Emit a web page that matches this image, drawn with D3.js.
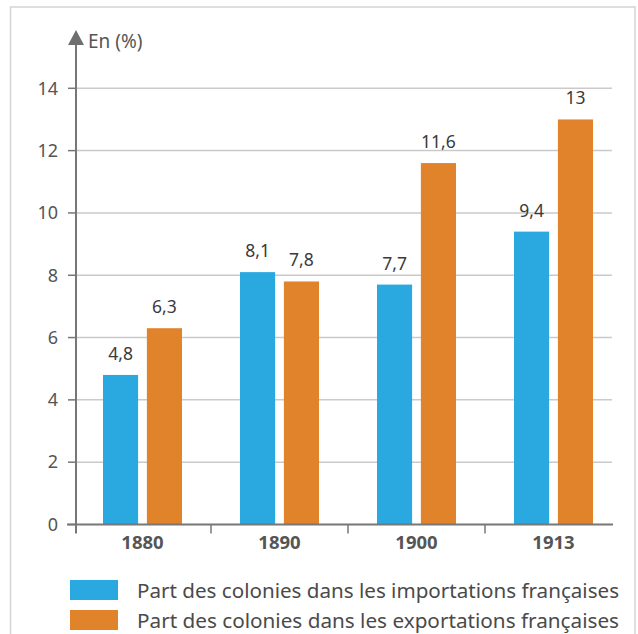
<!DOCTYPE html>
<html><head><meta charset="utf-8">
<script src="https://cdn.jsdelivr.net/npm/d3@7"></script>
<style>
html,body{margin:0;padding:0;background:#fff;}
svg{display:block;font-family:"Noto Sans","Open Sans",sans-serif;}
</style></head>
<body>
<svg id="chart" width="638" height="634"></svg>
<script>
const categories = ["1880", "1890", "1900", "1913"];
const importations = [4.8, 8.1, 7.7, 9.4];
const exportations = [6.3, 7.8, 11.6, 13];
const valueLabels = { imp: ["4,8", "8,1", "7,7", "9,4"], exp: ["6,3", "7,8", "11,6", "13"] };
const yTicks = [0, 2, 4, 6, 8, 10, 12, 14];
const seriesKeys = ["imp", "exp"];
const seriesNames = ["Part des colonies dans les importations françaises",
                     "Part des colonies dans les exportations françaises"];
const seriesColors = ["#29a9e0", "#e0832b"];
const yTitle = "En (%)";

const svg = d3.select("#chart");

// frame
svg.append("rect").attr("x", 10.5).attr("y", 7).attr("width", 624.5).attr("height", 640)
  .attr("fill", "none").attr("stroke", "#d4d4d4").attr("stroke-width", 1.5);

const axisX = 76, plotRight = 613, axisExt = 9;
const y = d3.scaleLinear().domain([0, 14]).range([524.5, 88.3]);
const x = d3.scaleBand().domain(categories).range([axisX - 2, axisX - 2 + 4 * 137]).paddingInner(0).paddingOuter(0);
const inner = d3.scaleBand().domain(seriesKeys).range([0, 79]).paddingInner(0.2);

// gridlines
svg.append("g").selectAll("line").data(yTicks.filter(d => d > 0)).join("line")
  .attr("x1", axisX).attr("x2", plotRight - 1)
  .attr("y1", d => y(d)).attr("y2", d => y(d))
  .attr("stroke", "#cacaca").attr("stroke-width", 1.5);

// bars
const data = categories.map((c, i) => ({ c, imp: importations[i], exp: exportations[i] }));
const groups = svg.append("g").selectAll("g").data(data).join("g")
  .attr("transform", d => `translate(${x(d.c) + x.bandwidth() / 2 - 39.5},0)`);
seriesKeys.forEach((k, si) => {
  groups.append("rect")
    .attr("x", inner(k)).attr("width", inner.bandwidth())
    .attr("y", d => y(d[k])).attr("height", d => y(0) - y(d[k]))
    .attr("fill", seriesColors[si]);
  groups.append("text")
    .attr("x", inner(k) + inner.bandwidth() / 2)
    .attr("y", d => y(d[k]) - 15)
    .attr("text-anchor", "middle").attr("font-size", 17.5).attr("fill", "#3a3a3a")
    .text((d, i) => valueLabels[k][i]);
});

// y axis ticks and labels
const yAxis = svg.append("g");
yAxis.selectAll("line").data(yTicks).join("line")
  .attr("x1", axisX - 8).attr("x2", axisX).attr("y1", d => y(d)).attr("y2", d => y(d))
  .attr("stroke", "#777").attr("stroke-width", 1.5);
yAxis.selectAll("text").data(yTicks).join("text")
  .attr("x", 58).attr("y", d => y(d)).attr("dy", "0.35em")
  .attr("text-anchor", "end").attr("font-size", 18).attr("fill", "#555")
  .text(d => d);

// y axis line + arrow
svg.append("line").attr("x1", axisX).attr("x2", axisX).attr("y1", 42).attr("y2", y(0) + axisExt)
  .attr("stroke", "#777").attr("stroke-width", 2);
svg.append("path").attr("d", `M${axisX},30 L${axisX - 8},45 L${axisX + 8},45 Z`).attr("fill", "#6f6f6f");
svg.append("text").attr("x", 88).attr("y", 48).attr("font-size", 19).attr("fill", "#555").text(yTitle);

// x axis
svg.append("line").attr("x1", axisX - 9).attr("x2", plotRight).attr("y1", y(0)).attr("y2", y(0))
  .attr("stroke", "#777").attr("stroke-width", 2);
svg.append("g").selectAll("line").data(categories.slice(1)).join("line")
  .attr("x1", d => x(d)).attr("x2", d => x(d)).attr("y1", y(0)).attr("y2", y(0) + axisExt)
  .attr("stroke", "#777").attr("stroke-width", 1.5);
svg.append("g").selectAll("text").data(categories).join("text")
  .attr("x", d => x(d) + x.bandwidth() / 2).attr("y", 549)
  .attr("text-anchor", "middle").attr("font-size", 18.5).attr("font-weight", "bold").attr("fill", "#555")
  .text(d => d);

// legend
const leg = svg.append("g").selectAll("g").data(seriesNames).join("g")
  .attr("transform", (d, i) => `translate(70,${580 + i * 30})`);
leg.append("rect").attr("width", 48).attr("height", 20).attr("fill", (d, i) => seriesColors[i]);
leg.append("text").attr("x", 67).attr("y", 18).attr("font-size", 19).attr("fill", "#4a4a4a")
  .attr("textLength", 482).attr("lengthAdjust", "spacingAndGlyphs")
  .text(d => d);
</script>
</body></html>
